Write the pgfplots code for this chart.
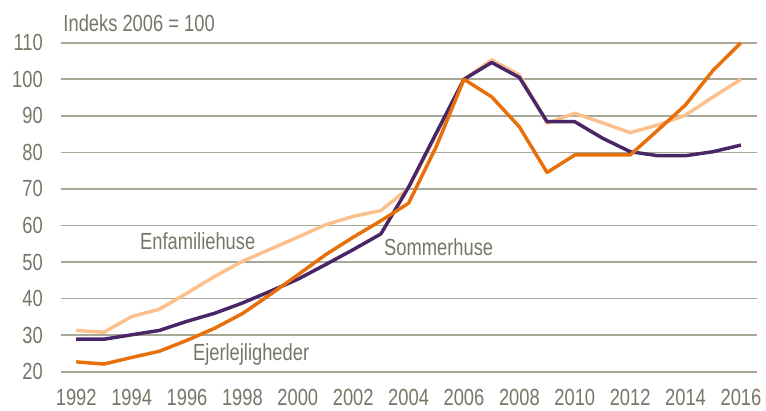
\documentclass[border=0pt]{standalone}
\usepackage{pgfplots}
\pgfplotsset{compat=1.18}
\usepackage{fontspec}
\setmainfont[FakeStretch=0.785]{Liberation Sans}
\definecolor{txtgray}{RGB}{118,118,104}
\definecolor{gridgray}{RGB}{168,168,152}
\definecolor{lightor}{RGB}{252,192,140}
\definecolor{darkpur}{RGB}{72,38,104}
\definecolor{orng}{RGB}{232,112,10}
\begin{document}
\begin{tikzpicture}
\useasboundingbox (-45.75pt,-28.7pt) rectangle (528.75pt,278.8pt);
\begin{axis}[
  at={(0,0)}, anchor=south west,
  scale only axis, width=522pt, height=246.75pt,
  xmin=1991.45, xmax=2016.58, ymin=20, ymax=110,
  axis line style={draw=none},
  ymajorgrids, grid style={gridgray, line width=1.3pt},
  xtick={1992,1994,...,2016}, ytick={20,30,...,110},
  major tick length=0pt, tick style={draw=none},
  /pgf/number format/assume math mode=true,
  /pgf/number format/1000 sep={},
  tick label style={font=\fontsize{17.5}{20}\selectfont, text=txtgray},
  xticklabel style={anchor=north, inner sep=0pt, yshift=-13pt},
  yticklabel style={anchor=east, inner sep=0pt, xshift=-13.5pt},
  clip=false,
  every axis plot/.append style={line width=2.6pt, line join=round, no marks},
]
\addplot[lightor] coordinates {
(1992,31.3)(1993,30.8)(1994,35.1)(1995,37.1)(1996,41.5)(1997,46.1)(1998,50.2)(1999,53.5)(2000,56.8)(2001,60.2)(2002,62.5)(2003,64.1)(2004,70.2)(2005,85)(2006,100)(2007,105.3)(2008,101.2)(2009,88)(2010,90.7)(2011,88.1)(2012,85.4)(2013,87.5)(2014,90.2)(2015,95.2)(2016,100)};
\addplot[darkpur] coordinates {
(1992,28.9)(1993,28.9)(1994,30.1)(1995,31.3)(1996,33.8)(1997,36.0)(1998,38.8)(1999,42.0)(2000,45.3)(2001,49.3)(2002,53.4)(2003,57.7)(2004,70.5)(2005,85.3)(2006,100)(2007,104.6)(2008,100.5)(2009,88.4)(2010,88.4)(2011,83.9)(2012,80.2)(2013,79.1)(2014,79.1)(2015,80.2)(2016,82)};
\addplot[orng] coordinates {
(1992,22.7)(1993,22.1)(1994,23.9)(1995,25.6)(1996,28.6)(1997,31.9)(1998,35.9)(1999,41.1)(2000,46.5)(2001,52.0)(2002,56.8)(2003,61.3)(2004,66.1)(2005,81.6)(2006,100)(2007,95.2)(2008,87.0)(2009,74.5)(2010,79.3)(2011,79.3)(2012,79.3)(2013,86.1)(2014,93.0)(2015,102.5)(2016,110)};
\node[anchor=base west, inner sep=0pt, text=txtgray, font=\fontsize{17.5}{20}\selectfont] at (axis cs:1991.53,113) {Indeks 2006 = 100};
\node[anchor=base west, inner sep=0pt, text=txtgray, font=\fontsize{17.5}{20}\selectfont] at (axis cs:1994.30,53.5) {Enfamiliehuse};
\node[anchor=base west, inner sep=0pt, text=txtgray, font=\fontsize{17.5}{20}\selectfont] at (axis cs:2003.11,51.9) {Sommerhuse};
\node[anchor=base west, inner sep=0pt, text=txtgray, font=\fontsize{17.5}{20}\selectfont] at (axis cs:1996.21,23.2) {Ejerlejligheder};
\end{axis}
\end{tikzpicture}
\end{document}
